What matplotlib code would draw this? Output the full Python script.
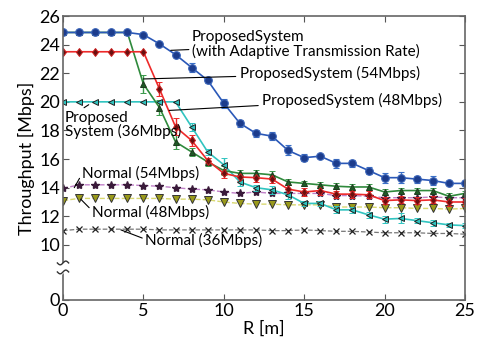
import matplotlib.pyplot as plt
import numpy as np

plt.rcParams['font.family'] = ['Lato', 'DejaVu Sans']

# distance R [m]
r = np.arange(0, 26)

# throughput [Mbps]
adaptive = [24.85, 24.85, 24.85, 24.85, 24.85, 24.7, 24.05, 23.3, 22.4, 21.5, 19.9, 18.5, 17.8,
            17.6, 16.6, 16.1, 16.2, 15.7, 15.7, 15.2, 14.7, 14.7, 14.6, 14.5, 14.3, 14.3]
adaptive_err = [0, 0, 0, 0, 0, 0.1, 0.1, 0.15, 0.3, 0.15, 0.3, 0.25, 0.25,
                0.3, 0.35, 0.25, 0.1, 0.3, 0.25, 0.25, 0.35, 0.4, 0.25, 0.3, 0.1, 0.15]
prop54 = [24.85, 24.85, 24.85, 24.85, 24.85, 21.25, 19.6, 17.2, 16.5, 15.8, 15.2, 15.0, 15.0,
          14.9, 14.4, 14.3, 14.2, 14.1, 14.05, 14.05, 13.7, 13.8, 13.8, 13.8, 13.4, 13.6]
prop54_err = [0, 0, 0, 0, 0, 0.6, 0.5, 0.5, 0.3, 0.3, 0.3, 0.25, 0.25,
              0.25, 0.2, 0.2, 0.2, 0.2, 0.2, 0.2, 0.2, 0.2, 0.2, 0.2, 0.2, 0.2]
prop48 = [23.5, 23.5, 23.5, 23.5, 23.5, 23.5, 20.9, 18.25, 17.3, 15.9, 15.0, 14.75, 14.7,
          14.6, 13.9, 13.7, 13.8, 13.55, 13.55, 13.5, 13.1, 13.15, 13.1, 13.15, 13.0, 13.0]
prop48_err = [0, 0, 0, 0, 0, 0, 0.5, 0.6, 0.4, 0.2, 0.3, 0.3, 0.3,
              0.3, 0.3, 0.3, 0.3, 0.25, 0.25, 0.25, 0.25, 0.25, 0.25, 0.25, 0.25, 0.25]
prop36 = [20.0, 20.0, 20.0, 20.0, 20.0, 20.0, 20.0, 20.0, 18.25, 16.5, 15.6, 14.4, 14.0,
          13.85, 13.5, 12.9, 12.9, 12.45, 12.45, 12.1, 11.8, 11.85, 11.7, 11.55, 11.4, 11.35]
prop36_err = [0, 0, 0, 0, 0, 0, 0, 0, 0.3, 0.2, 0.5, 0.3, 0.2,
              0.3, 0.3, 0.2, 0.2, 0.25, 0.2, 0.2, 0.25, 0.35, 0.2, 0.2, 0.15, 0.15]
norm54 = [13.95, 14.2, 14.2, 14.2, 14.2, 14.15, 14.1, 14.0, 13.9, 13.85, 13.7, 13.6, 13.7,
          13.6, 13.6, 13.6, 13.6, 13.45, 13.45, 13.4, 13.3, 13.3, 13.3, 13.35, 13.3, 13.3]
norm48 = [13.1, 13.25, 13.25, 13.25, 13.25, 13.25, 13.25, 13.2, 13.2, 13.15, 13.0, 12.9, 12.85,
          12.85, 12.8, 12.8, 12.8, 12.65, 12.65, 12.65, 12.6, 12.6, 12.55, 12.55, 12.5, 12.55]
norm36 = [11.0, 11.1, 11.1, 11.1, 11.1, 11.1, 11.05, 11.05, 11.05, 11.05, 11.05, 11.05, 11.05,
          11.0, 11.0, 11.05, 11.0, 10.95, 10.95, 10.9, 10.85, 10.85, 10.85, 10.8, 10.8, 10.75]

# position on the broken y axis where "0" is drawn
y_zero = 6.15

fig = plt.figure(figsize=(4.79, 3.5), dpi=100)
ax = fig.add_axes([63/479, 50/350, 402/479, 284/350])

# normal systems (dashed)
ax.plot(r, norm36, '--', color='#777777', lw=0.9, marker='x', ms=5, mec='#222222', mew=0.9)
ax.plot(r, norm48, '--', color='#d8d870', lw=1.0, marker='v', ms=5.5, mfc='#9a9a1a', mec='#333333', mew=0.7)
ax.plot(r, norm54, '--', color='#c080c8', lw=1.0, marker='*', ms=6, mfc='#3a1a3a', mec='#3a1a3a')

# proposed systems
ax.errorbar(r, prop36, yerr=prop36_err, color='#30c4c0', lw=1.2, marker='<', ms=5,
            mfc='#30c4c0', mec='#222222', mew=0.7, capsize=2.5, ecolor='#30c4c0', elinewidth=1)
ax.errorbar(r, prop54, yerr=prop54_err, color='#2f8a3c', lw=1.2, marker='^', ms=4.5,
            mfc='#1e5a26', mec='#1e3a1e', mew=0.7, capsize=2.5, ecolor='#3a9a4a', elinewidth=1)
ax.errorbar(r, prop48, yerr=prop48_err, color='#ee2a2a', lw=1.2, marker='d', ms=4.5,
            mfc='#6a1010', mec='#cc2020', mew=0.7, capsize=2.5, ecolor='#ee2a2a', elinewidth=1)
ax.errorbar(r, adaptive, yerr=adaptive_err, color='#2a58b8', lw=1.2, marker='o', ms=5.5,
            mfc='#1c3c8c', mec='#3a64b8', mew=0.8, capsize=2.5, ecolor='#3a70c8', elinewidth=1)

# annotations
fs = 11
ax.annotate('ProposedSystem\n(with Adaptive Transmission Rate)', xy=(6.7, 23.6), xytext=(8.0, 24.0),
            fontsize=fs, va='center', ha='left', linespacing=0.95,
            arrowprops=dict(arrowstyle='-', color='black', lw=0.8, shrinkA=0, shrinkB=0))
ax.annotate('ProposedSystem (54Mbps)', xy=(5.0, 21.6), xytext=(11.0, 21.95),
            fontsize=fs, va='center', ha='left',
            arrowprops=dict(arrowstyle='-', color='black', lw=0.8, shrinkA=1, shrinkB=0))
ax.annotate('ProposedSystem (48Mbps)', xy=(6.6, 19.4), xytext=(12.4, 20.1),
            fontsize=fs, va='center', ha='left',
            arrowprops=dict(arrowstyle='-', color='black', lw=0.8, shrinkA=1, shrinkB=0))
ax.annotate('Proposed\nSystem (36Mbps)', xy=(1.6, 19.8), xytext=(0.1, 18.4),
            fontsize=fs, va='center', ha='left', linespacing=0.95,
            arrowprops=dict(arrowstyle='-', color='black', lw=0.8, shrinkA=0, shrinkB=0,
                            relpos=(0.13, 1.0)))
ax.annotate('Normal (54Mbps)', xy=(0.7, 14.0), xytext=(1.2, 15.0),
            fontsize=fs, va='center', ha='left',
            arrowprops=dict(arrowstyle='-', color='black', lw=0.8, shrinkA=0, shrinkB=0,
                            relpos=(0.0, 0.5)))
ax.annotate('Normal (48Mbps)', xy=(1.1, 13.2), xytext=(1.8, 12.3),
            fontsize=fs, va='center', ha='left',
            arrowprops=dict(arrowstyle='-', color='black', lw=0.8, shrinkA=0, shrinkB=0,
                            relpos=(0.0, 0.6)))
ax.annotate('Normal (36Mbps)', xy=(3.6, 11.05), xytext=(5.1, 10.3),
            fontsize=fs, va='center', ha='left',
            arrowprops=dict(arrowstyle='-', color='black', lw=0.8, shrinkA=0, shrinkB=0,
                            relpos=(0.0, 0.6)))

# axes
ax.set_xlim(0, 25)
ax.set_ylim(y_zero, 26)
ax.set_xticks([0, 5, 10, 15, 20, 25])
ax.set_yticks([y_zero, 10, 12, 14, 16, 18, 20, 22, 24, 26])
ax.set_yticklabels(['0', '10', '12', '14', '16', '18', '20', '22', '24', '26'])
ax.tick_params(direction='in', top=True, right=True, labelsize=13, length=4, color='#555555', pad=2)
for s in ax.spines.values():
    s.set_color('#666666')
    s.set_linewidth(1.2)
ax.set_xlabel('R [m]', fontsize=13, labelpad=1)
ax.set_ylabel('Throughput [Mbps]', fontsize=13, labelpad=3)

# axis break mark: two squiggles with a gap in the spine
bt = ax.get_yaxis_transform()
bx = np.linspace(-0.014, 0.014, 30)
wave = 0.13 * np.sin(bx / 0.014 * np.pi)
ax.fill_between(bx, 8.11 + wave, 8.74 + wave, transform=bt, color='white', zorder=5, clip_on=False)
ax.plot(bx, 8.74 + wave, transform=bt, color='#333333', lw=1.0, zorder=6, clip_on=False)
ax.plot(bx, 8.11 + wave, transform=bt, color='#333333', lw=1.0, zorder=6, clip_on=False)

fig.savefig('out.png', dpi=100)
